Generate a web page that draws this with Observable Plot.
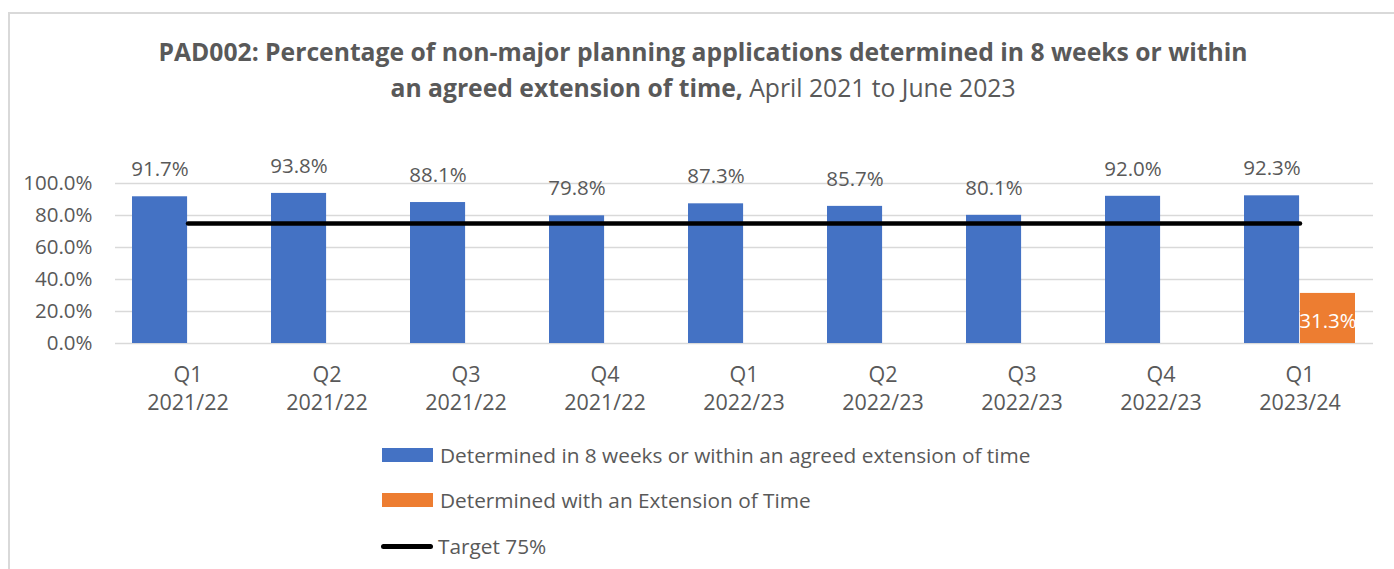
<!DOCTYPE html>
<html><head><meta charset="utf-8">
<script src="https://cdn.jsdelivr.net/npm/d3@7"></script>
<script src="https://cdn.jsdelivr.net/npm/@observablehq/plot@0.6"></script>
<style>
body{margin:0;background:#fff;font-family:"Open Sans",sans-serif;color:#595959;}
#wrap{position:relative;width:1394px;height:569px;overflow:hidden;background:#fff;}
#frame{position:absolute;left:8px;top:12px;width:1420px;height:620px;border:2px solid #d9d9d9;box-sizing:border-box;}
#title{position:absolute;left:0;width:1406px;top:34px;text-align:center;font-size:24.7px;line-height:36px;color:#595959;}
#chart{position:absolute;left:0;top:150px;}
.leg{position:absolute;left:380px;height:22px;display:flex;align-items:center;font-size:20.8px;color:#595959;white-space:nowrap;}
.sw{width:51px;height:14px;margin-left:2px;margin-right:7px;}
.ln{width:52px;height:5px;border-radius:3px;background:#000;margin-right:5px;margin-left:1px;}
</style></head><body>
<div id="wrap">
  <div id="frame"></div>
  <div id="title"><b>PAD002: Percentage of non-major planning applications determined in 8 weeks or within</b><br><b>an agreed extension of time,</b> April 2021 to June 2023</div>
  <div id="chart"></div>
  <div class="leg" style="top:444px"><div class="sw" style="background:#4472C4"></div>Determined in 8 weeks or within an agreed extension of time</div>
  <div class="leg" style="top:489px"><div class="sw" style="background:#ED7D31"></div>Determined with an Extension of Time</div>
  <div class="leg" style="top:535px"><div class="ln"></div>Target 75%</div>
</div>
<script>
const quarters = ["Q1","Q2","Q3","Q4","Q1","Q2","Q3","Q4","Q1"];
const years = ["2021/22","2021/22","2021/22","2021/22","2022/23","2022/23","2022/23","2022/23","2023/24"];
const determined = [91.7, 93.8, 88.1, 79.8, 87.3, 85.7, 80.1, 92.0, 92.3];
const extension = [null, null, null, null, null, null, null, null, 31.3];
const target = 75;
const yTicks = [0, 20, 40, 60, 80, 100];

const cats = quarters.map((q, i) => q + "\n" + years[i]);
const data = cats.map((c, i) => ({cat: c, det: determined[i], ext: extension[i], target}));
const extData = data.filter(d => d.ext != null);

const W = 1394, H = 270, mL = 115, mR = 21, mT = 33, mB = 77;
const step = (W - mL - mR) / cats.length;
const bw = step * 0.8;
const half = bw / 2;
const fmt = v => v.toFixed(1) + "%";

const chart = Plot.plot({
  width: W, height: H,
  marginLeft: mL, marginRight: mR, marginTop: mT, marginBottom: mB,
  style: {fontFamily: '"Open Sans", sans-serif', color: "#595959", background: "transparent"},
  x: {domain: cats, paddingInner: 0.2, paddingOuter: 0.1},
  y: {domain: [0, 100]},
  marks: [
    Plot.gridY(yTicks, {stroke: "#d9d9d9", strokeOpacity: 1, strokeWidth: 1.5}),
    Plot.axisY(yTicks, {tickFormat: fmt, tickSize: 0, tickPadding: 23, fontSize: 20.5, label: null}),
    Plot.axisX({tickSize: 0, tickPadding: 19, fontSize: 21.5, lineHeight: 1.3, label: null}),
    Plot.barY(data, {x: "cat", y: "det", fill: "#4472C4", insetRight: half}),
    Plot.barY(extData, {x: "cat", y: "ext", fill: "#ED7D31", insetLeft: half}),
    Plot.lineY(data, {x: "cat", y: "target", stroke: "#000", strokeWidth: 4.5, strokeLinecap: "round"}),
    Plot.text(data, {x: "cat", y: "det", text: d => fmt(d.det), dx: -half / 2, dy: -27, fontSize: 20.5, fill: "#595959"}),
    Plot.text(extData, {x: "cat", y: 0, text: d => fmt(d.ext), dx: half / 2, dy: -22, fontSize: 20.5, fill: "#fff"})
  ]
});
document.getElementById("chart").appendChild(chart);
</script>
</body></html>
